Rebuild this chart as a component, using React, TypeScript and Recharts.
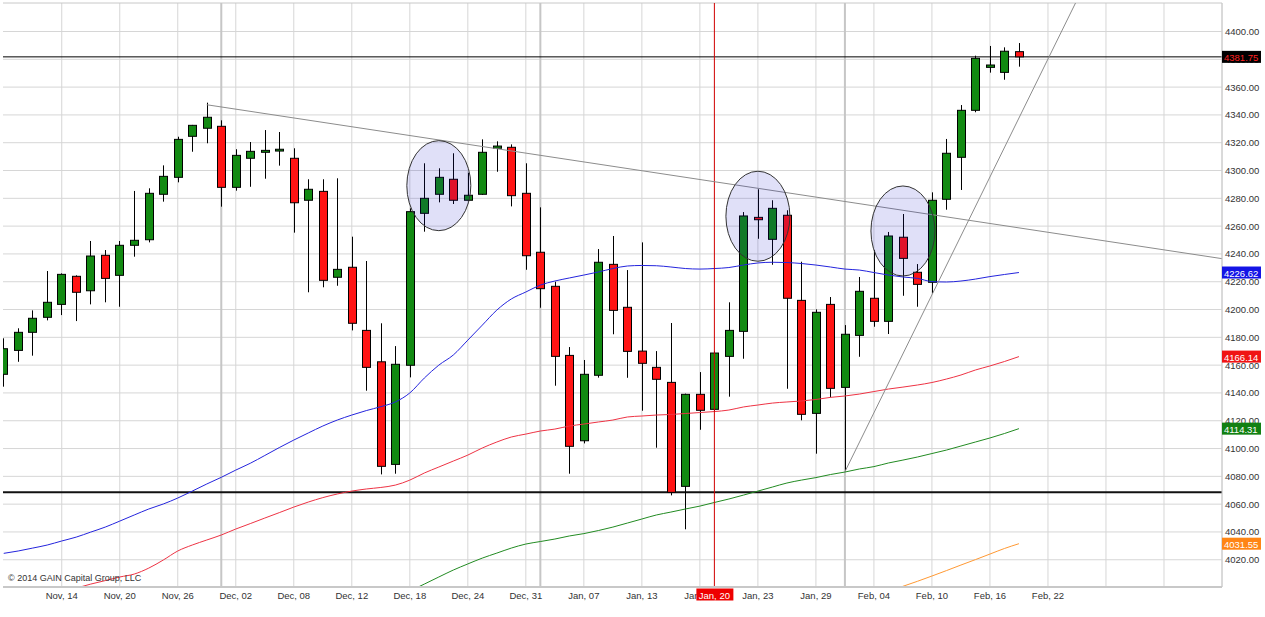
import {
  ComposedChart,
  Bar,
  Line,
  XAxis,
  YAxis,
  CartesianGrid,
  ReferenceLine,
  ReferenceDot,
} from "recharts";

// daily candles, index 0 = Nov 10
const opens = [
  4153.4, 4170.6, 4183.6, 4194.4, 4203.7, 4223.9, 4213.5, 4239.0, 4224.6, 4246.2,
  4250.2, 4282.9, 4295.1, 4324.6, 4330.4, 4331.8, 4287.9, 4308.8, 4313.1, 4314.0,
  4308.8, 4278.6, 4285.0, 4223.2, 4230.4, 4185.0, 4162.4, 4088.6, 4159.9, 4269.2,
  4282.9, 4293.7, 4278.6, 4282.9, 4316.0, 4316.7, 4283.6, 4241.2, 4216.7, 4167.0,
  4105.6, 4152.7, 4232.5, 4201.6, 4170.1, 4158.4, 4147.6, 4072.8, 4139.0, 4128.2,
  4166.3, 4184.3, 4266.3, 4250.5, 4267.8, 4206.6, 4125.3, 4203.7, 4144.0, 4181.4,
  4208.1, 4191.5, 4252.0, 4226.8, 4219.6, 4279.3, 4309.5, 4343.3, 4374.2, 4370.6,
  4385.5,
];
const highs = [
  4179.3, 4186.5, 4199.4, 4227.7, 4226.0, 4224.6, 4249.3, 4242.8, 4249.3, 4285.3,
  4287.2, 4303.7, 4324.3, 4332.8, 4348.8, 4336.1, 4315.3, 4320.5, 4329.1, 4327.7,
  4316.0, 4293.7, 4293.7, 4294.4, 4252.4, 4234.9, 4190.1, 4173.7, 4272.8, 4305.2,
  4301.6, 4312.4, 4298.4, 4322.4, 4321.0, 4318.8, 4305.2, 4273.5, 4220.0, 4173.0,
  4163.7, 4243.5, 4252.9, 4228.4, 4248.3, 4170.1, 4190.3, 4139.5, 4155.0, 4170.0,
  4205.2, 4270.1, 4286.5, 4278.6, 4271.4, 4234.4, 4200.1, 4209.0, 4188.8, 4223.4,
  4242.8, 4255.8, 4268.7, 4232.7, 4284.3, 4322.7, 4347.1, 4382.6, 4389.6, 4388.6,
  4391.7,
];
const lows = [
  4144.5, 4162.4, 4166.8, 4192.2, 4196.0, 4191.7, 4203.7, 4205.2, 4202.0, 4238.0,
  4248.3, 4277.6, 4291.5, 4313.5, 4319.6, 4274.0, 4285.5, 4288.3, 4294.1, 4303.5,
  4255.3, 4212.4, 4216.0, 4217.1, 4185.0, 4141.6, 4081.4, 4081.9, 4151.2, 4256.0,
  4277.1, 4275.9, 4278.0, 4282.5, 4299.1, 4274.2, 4228.6, 4201.3, 4145.2, 4081.9,
  4103.7, 4151.0, 4182.2, 4150.9, 4127.2, 4100.6, 4066.3, 4041.9, 4113.5, 4127.0,
  4137.3, 4164.6, 4250.9, 4232.2, 4143.0, 4120.3, 4096.3, 4136.8, 4083.6, 4166.0,
  4187.6, 4182.4, 4209.9, 4202.0, 4211.7, 4271.8, 4286.0, 4341.9, 4370.4, 4365.3,
  4374.7,
];
const closes = [
  4171.8, 4183.6, 4193.7, 4205.2, 4225.3, 4212.4, 4238.5, 4222.4, 4246.2, 4249.8,
  4283.6, 4295.8, 4322.4, 4332.5, 4338.3, 4287.9, 4310.9, 4313.8, 4314.5, 4315.3,
  4276.8, 4286.5, 4221.0, 4228.9, 4190.1, 4158.4, 4087.2, 4160.6, 4270.4, 4280.0,
  4295.1, 4278.6, 4282.2, 4313.1, 4317.6, 4281.9, 4238.7, 4215.0, 4166.3, 4101.6,
  4153.4, 4234.0, 4199.4, 4169.9, 4161.3, 4149.8, 4068.5, 4139.0, 4127.5, 4168.7,
  4185.0, 4267.3, 4264.6, 4272.8, 4208.1, 4124.6, 4198.0, 4143.3, 4182.2, 4213.1,
  4191.5, 4252.9, 4236.8, 4218.1, 4278.6, 4312.4, 4343.3, 4380.7, 4375.9, 4385.8,
  4381.75,
];

// moving averages (null = not drawn)
const maBlue = [
  4024.6, 4026.3, 4028.4, 4030.6, 4033.5, 4036.3, 4039.9, 4043.5, 4047.8, 4052.2,
  4056.5, 4060.1, 4064.4, 4069.4, 4074.5, 4079.3, 4084.5, 4089.4, 4095.0, 4100.7,
  4106.1, 4111.2, 4116.2, 4120.5, 4124.1, 4127.3, 4130.1, 4133.5, 4140.0, 4150.7,
  4160.0, 4167.3, 4178.0, 4188.8, 4199.6, 4207.6, 4212.6, 4217.6, 4220.5, 4222.7,
  4224.8, 4227.0, 4229.5, 4231.3, 4231.7, 4231.5, 4230.6, 4229.5, 4229.1, 4229.5,
  4230.2, 4232.0, 4233.5, 4234.0, 4233.8, 4233.1, 4232.0, 4230.6, 4229.1, 4228.4,
  4226.6, 4224.8, 4223.4, 4222.4, 4220.1, 4219.8, 4220.5, 4221.9, 4223.7, 4225.2,
  4226.62,
];
const maRed = [
  null, null, null, null, null, 3999.6, 4002.5, 4005.0, 4007.6, 4009.7,
  4014.0, 4019.8, 4026.3, 4030.6, 4034.2, 4037.8, 4042.1, 4046.0, 4050.0, 4053.9,
  4057.9, 4061.5, 4064.7, 4067.3, 4069.4, 4070.9, 4072.0, 4073.7, 4077.3, 4082.4,
  4086.7, 4091.0, 4095.3, 4100.4, 4104.7, 4108.3, 4110.4, 4112.6, 4114.0, 4116.2,
  4117.6, 4119.1, 4120.5, 4122.7, 4123.4, 4124.1, 4124.5, 4125.2, 4125.9, 4126.6,
  4127.7, 4129.9, 4131.3, 4132.7, 4133.5, 4134.2, 4135.3, 4136.8, 4137.8, 4139.2,
  4141.0, 4142.8, 4144.2, 4145.7, 4147.5, 4150.0, 4152.9, 4156.5, 4159.4, 4162.6,
  4166.14,
];
const maGreen = [
  null, null, null, null, null, null, null, null, null, null,
  null, null, null, null, null, null, null, null, null, null,
  null, null, null, null, null, null, null, null, 3997.5, 4002.5,
  4007.6, 4012.6, 4017.0, 4021.2, 4024.8, 4028.4, 4031.3, 4033.1, 4034.9, 4037.1,
  4038.8, 4041.0, 4043.5, 4046.4, 4049.3, 4052.2, 4054.3, 4056.5, 4058.6, 4061.2,
  4063.7, 4066.5, 4069.4, 4072.3, 4075.2, 4077.3, 4079.1, 4081.3, 4083.1, 4085.3,
  4087.0, 4089.6, 4091.7, 4093.9, 4096.4, 4098.9, 4101.8, 4104.7, 4107.6, 4110.8,
  4114.31,
];
const maOrange = [
  null, null, null, null, null, null, null, null, null, null,
  null, null, null, null, null, null, null, null, null, null,
  null, null, null, null, null, null, null, null, null, null,
  null, null, null, null, null, null, null, null, null, null,
  null, null, null, null, null, null, null, null, null, null,
  null, null, null, null, null, null, null, null, null, null,
  null, 3997.4, 4000.9, 4004.5, 4008.3, 4012.2, 4016.2, 4020.1, 4024.1, 4028.1,
  4031.55,
];

const xTickValues = [4, 8, 12, 16, 20, 24, 28, 32, 36, 40, 44, 48, 52, 56, 60, 64, 68, 72, 76, 80, 84];
const xTickLabels = [
  "Nov, 14", "Nov, 20", "Nov, 26", "Dec, 02", "Dec, 08", "Dec, 12", "Dec, 18",
  "Dec, 24", "Dec, 31", "Jan, 07", "Jan, 13", "Jan, 19", "Jan, 23", "Jan, 29",
  "Feb, 04", "Feb, 10", "Feb, 16", "Feb, 22", "", "", "",
];
const crossIndex = 49;
const crossLabel = "Jan, 20";
const monthStarts = [15, 37, 58];

const yTicks = [
  4020, 4040, 4060, 4080, 4100, 4120, 4140, 4160, 4180, 4200,
  4220, 4240, 4260, 4280, 4300, 4320, 4340, 4360, 4380, 4400,
];
const tagValues = [4381.75, 4226.62, 4166.14, 4114.31, 4031.55];
const tagFill = ["#000000", "#1414e6", "#f01414", "#128012", "#ff8514"];
const tagText = ["#ff2020", "#ffffff", "#ffffff", "#ffffff", "#ffffff"];

const lastPrice = 4381.75;
const supportLevel = 4068.5;
const falling = [{ x: 14, y: 4347.3 }, { x: 84, y: 4236.6 }];
const rising = [{ x: 58, y: 4083.3 }, { x: 73.9, y: 4420.5 }];
const circles = [
  { x: 30, y: 4289.1 },
  { x: 52, y: 4267.1 },
  { x: 62, y: 4256.5 },
];

const Y_MIN = 4000.4;
const Y_MAX = 4420.5;

const data = opens.map((o, i) => ({
  i,
  o,
  h: highs[i],
  l: lows[i],
  c: closes[i],
  range: [lows[i], highs[i]],
  maBlue: maBlue[i],
  maRed: maRed[i],
  maGreen: maGreen[i],
  maOrange: maOrange[i],
}));

const FONT = "'Liberation Sans', Arial, sans-serif";

function Candle(props: any) {
  const { x, y, width, height, payload } = props;
  if (!payload) return null;
  const { o, c, h, l } = payload;
  const top = Math.min(y, y + height);
  const span = Math.abs(height);
  const k = h === l ? 0 : span / (h - l);
  const yOf = (v: number) => top + (h - v) * k;
  const cx = Math.round(x + width / 2) + 0.5;
  const bTop = yOf(Math.max(o, c));
  const bBot = yOf(Math.min(o, c));
  return (
    <g>
      <line x1={cx} x2={cx} y1={top} y2={top + span} stroke="#000" strokeWidth={1} />
      <rect
        x={cx - 4}
        y={bTop}
        width={8}
        height={Math.max(bBot - bTop, 1.5)}
        fill={c >= o ? "#128a12" : "#ff1414"}
        stroke="#000"
        strokeWidth={1}
      />
    </g>
  );
}

function XTick(props: any) {
  const { x, y, payload } = props;
  const v = payload.value;
  if (v === crossIndex) {
    return (
      <g>
        <rect x={x - 18} y={y + 1.5} width={37} height={12} fill="#ee0000" />
        <text x={x} y={y + 11.5} textAnchor="middle" fill="#fff" fontSize={9.5} fontFamily={FONT}>
          {crossLabel}
        </text>
      </g>
    );
  }
  const idx = xTickValues.indexOf(v);
  return (
    <text x={x} y={y + 12} textAnchor="middle" fill="#333" fontSize={9.5} fontFamily={FONT}>
      {xTickLabels[idx]}
    </text>
  );
}

function YTick(props: any) {
  const { x, y, payload } = props;
  const v = payload.value;
  const t = tagValues.indexOf(v);
  if (t >= 0) {
    return (
      <g>
        <rect x={x} y={y - 6} width={39} height={12} fill={tagFill[t]} />
        <text x={x + 2} y={y + 4} fill={tagText[t]} fontSize={9.5} fontFamily={FONT}>
          {v.toFixed(2)}
        </text>
      </g>
    );
  }
  return (
    <text x={x + 3} y={y + 3.5} fill="#333" fontSize={9.5} fontFamily={FONT}>
      {v.toFixed(2)}
    </text>
  );
}

export default function App() {
  return (
    <div style={{ position: "absolute", left: 0, top: 0, width: 1265, height: 617, background: "#fff" }}>
      <ComposedChart width={1265} height={617} data={data} margin={{ top: 3, right: 0, left: 3, bottom: 0 }}>
        <CartesianGrid stroke="#d6d6d6" horizontalValues={yTicks} verticalValues={xTickValues} />
        {/* lines that sit behind the candles */}
        <CartesianGrid stroke="#c6c6c6" strokeWidth={2} horizontal={false} verticalValues={monthStarts} />
        <CartesianGrid stroke="#000" vertical={false} horizontalValues={[lastPrice]} />
        <CartesianGrid stroke="#111" strokeWidth={2} vertical={false} horizontalValues={[supportLevel]} />
        <XAxis
          dataKey="i"
          type="number"
          domain={[-0.05, 84]}
          allowDataOverflow
          ticks={[...xTickValues, crossIndex]}
          interval={0}
          tick={<XTick />}
          tickSize={0}
          tickMargin={0}
          tickLine={false}
          height={30}
          axisLine={{ stroke: "#c8c8c8", strokeWidth: 2 }}
        />
        <YAxis
          orientation="right"
          type="number"
          domain={[Y_MIN, Y_MAX]}
          allowDataOverflow
          ticks={[...yTicks, ...tagValues]}
          interval={0}
          tick={<YTick />}
          tickSize={0}
          tickMargin={0}
          tickLine={false}
          width={43}
          axisLine={{ stroke: "#c8c8c8" }}
        />
        <ReferenceLine y={Y_MAX} stroke="#c8c8c8" />
        <Line dataKey="maOrange" stroke="#ff9933" dot={false} strokeWidth={1} isAnimationActive={false} type="monotone" />
        <Line dataKey="maGreen" stroke="#228b22" dot={false} strokeWidth={1} isAnimationActive={false} type="monotone" />
        <Line dataKey="maRed" stroke="#ee3344" dot={false} strokeWidth={1} isAnimationActive={false} type="monotone" />
        <Line dataKey="maBlue" stroke="#2424dd" dot={false} strokeWidth={1} isAnimationActive={false} type="monotone" />
        <Bar dataKey="range" barSize={8} isAnimationActive={false} shape={(p: any) => <Candle {...p} />} />
        <ReferenceLine x={crossIndex} stroke="#d00000" />
        <ReferenceLine segment={falling} stroke="#8c8c8c" />
        <ReferenceLine segment={rising} stroke="#8c8c8c" />
        {circles.map((e, k) => (
          <ReferenceDot
            key={k}
            x={e.x}
            y={e.y}
            r={32}
            shape={(p: any) => (
              <ellipse cx={p.cx} cy={p.cy} rx={32} ry={45} fill="rgba(17,17,201,0.13)" stroke="#333" strokeWidth={1} />
            )}
          />
        ))}
      </ComposedChart>
      <div
        style={{
          position: "absolute",
          left: 8,
          top: 573,
          fontSize: 9,
          fontFamily: FONT,
          color: "#333",
          whiteSpace: "nowrap",
        }}
      >
        © 2014 GAIN Capital Group, LLC
      </div>
    </div>
  );
}
